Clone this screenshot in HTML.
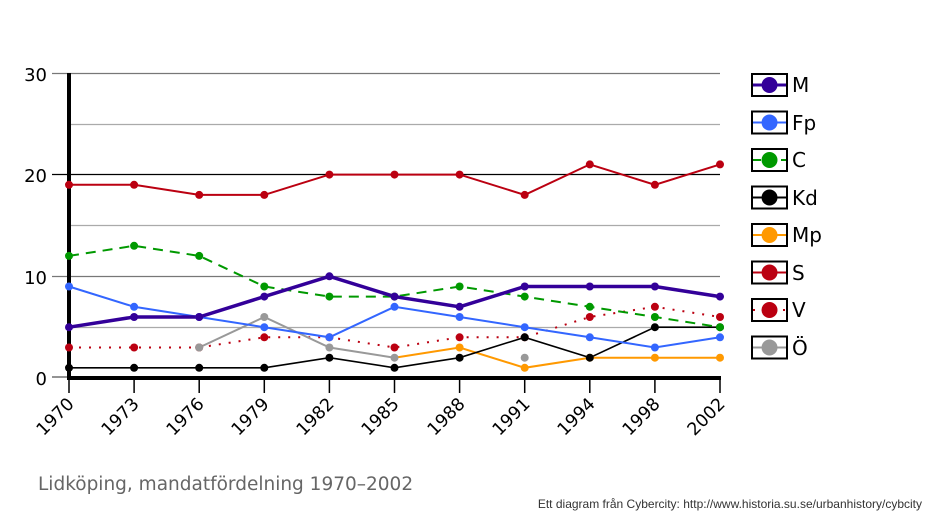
<!DOCTYPE html>
<html><head><meta charset="utf-8"><style>body{margin:0;background:#fff}svg{display:block;font-family:"DejaVu Sans","Liberation Sans",sans-serif}</style></head><body>
<svg width="934" height="521" viewBox="0 0 934 521" xmlns="http://www.w3.org/2000/svg">
<g stroke-width="1.3">
<line x1="52" y1="73.5" x2="720" y2="73.5" stroke="#777"/>
<line x1="69" y1="124.5" x2="720" y2="124.5" stroke="#aaa"/>
<line x1="52" y1="174.5" x2="720" y2="174.5" stroke="#000"/>
<line x1="69" y1="225.5" x2="720" y2="225.5" stroke="#aaa"/>
<line x1="52" y1="276.5" x2="720" y2="276.5" stroke="#777"/>
<line x1="69" y1="327.5" x2="720" y2="327.5" stroke="#aaa"/>
<line x1="52" y1="377" x2="69" y2="377" stroke="#555"/>
</g>
<g stroke="#000" stroke-width="1.5">
<line x1="69" y1="378" x2="69" y2="393"/><line x1="134.1" y1="378" x2="134.1" y2="393"/><line x1="199.2" y1="378" x2="199.2" y2="393"/><line x1="264.3" y1="378" x2="264.3" y2="393"/><line x1="329.4" y1="378" x2="329.4" y2="393"/><line x1="394.5" y1="378" x2="394.5" y2="393"/><line x1="459.6" y1="378" x2="459.6" y2="393"/><line x1="524.7" y1="378" x2="524.7" y2="393"/><line x1="589.8" y1="378" x2="589.8" y2="393"/><line x1="654.9" y1="378" x2="654.9" y2="393"/><line x1="720" y1="378" x2="720" y2="393"/>
</g>
<line x1="69" y1="73" x2="69" y2="379" stroke="#000" stroke-width="4"/>
<line x1="67" y1="378" x2="721" y2="378" stroke="#000" stroke-width="4"/>
<g font-size="18" text-anchor="end" fill="#000">
<text x="47" y="81">30</text><text x="47" y="182">20</text><text x="47" y="284">10</text><text x="47" y="385">0</text>
</g>
<g font-size="17.5" text-anchor="end" fill="#000">
<text transform="translate(75,405) rotate(-45)">1970</text>
<text transform="translate(140,405) rotate(-45)">1973</text>
<text transform="translate(205,405) rotate(-45)">1976</text>
<text transform="translate(270,405) rotate(-45)">1979</text>
<text transform="translate(335,405) rotate(-45)">1982</text>
<text transform="translate(400,405) rotate(-45)">1985</text>
<text transform="translate(466,405) rotate(-45)">1988</text>
<text transform="translate(531,405) rotate(-45)">1991</text>
<text transform="translate(596,405) rotate(-45)">1994</text>
<text transform="translate(661,405) rotate(-45)">1998</text>
<text transform="translate(726,405) rotate(-45)">2002</text>
</g>
<g fill="none">
<polyline stroke="#bb0011" stroke-width="2" stroke-dasharray="2,8" points="69,347.5 134.1,347.5 199.2,347.5 264.3,337.3 329.4,337.3 394.5,347.5 459.6,337.3 524.7,337.3 589.8,317 654.9,306.8 720,317"/>
<polyline stroke="#999" stroke-width="2" points="199.2,347.5 264.3,317 329.4,347.5 394.5,357.7"/>
<polyline stroke="#ff9900" stroke-width="2" points="394.5,357.7 459.6,347.5 524.7,367.8 589.8,357.7 654.9,357.7 720,357.7"/>
<polyline stroke="#000" stroke-width="1.6" points="69,367.8 134.1,367.8 199.2,367.8 264.3,367.8 329.4,357.7 394.5,367.8 459.6,357.7 524.7,337.3 589.8,357.7 654.9,327.2 720,327.2"/>
<polyline stroke="#bb0011" stroke-width="2" points="69,184.8 134.1,184.8 199.2,194.9 264.3,194.9 329.4,174.6 394.5,174.6 459.6,174.6 524.7,194.9 589.8,164.4 654.9,184.8 720,164.4"/>
<polyline stroke="#3366ff" stroke-width="2" points="69,286.5 134.1,306.8 199.2,317 264.3,327.2 329.4,337.3 394.5,306.8 459.6,317 524.7,327.2 589.8,337.3 654.9,347.5 720,337.3"/>
<polyline stroke="#009900" stroke-width="2" stroke-dasharray="10,7" points="69,255.9 134.1,245.8 199.2,255.9 264.3,286.5 329.4,296.6 394.5,296.6 459.6,286.5 524.7,296.6 589.8,306.8 654.9,317 720,327.2"/>
<polyline stroke="#330099" stroke-width="3.5" points="69,327.2 134.1,317 199.2,317 264.3,296.6 329.4,276.3 394.5,296.6 459.6,306.8 524.7,286.5 589.8,286.5 654.9,286.5 720,296.6"/>
</g>
<g>
<g fill="#bb0011"><circle cx="69" cy="347.5" r="4"/><circle cx="134.1" cy="347.5" r="4"/><circle cx="199.2" cy="347.5" r="4"/><circle cx="264.3" cy="337.3" r="4"/><circle cx="329.4" cy="337.3" r="4"/><circle cx="394.5" cy="347.5" r="4"/><circle cx="459.6" cy="337.3" r="4"/><circle cx="524.7" cy="337.3" r="4"/><circle cx="589.8" cy="317" r="4"/><circle cx="654.9" cy="306.8" r="4"/><circle cx="720" cy="317" r="4"/></g>
<g fill="#999"><circle cx="199.2" cy="347.5" r="4"/><circle cx="264.3" cy="317" r="4"/><circle cx="329.4" cy="347.5" r="4"/><circle cx="394.5" cy="357.7" r="4"/><circle cx="524.7" cy="357.7" r="4"/></g>
<g fill="#ff9900"><circle cx="459.6" cy="347.5" r="4"/><circle cx="524.7" cy="367.8" r="4"/><circle cx="589.8" cy="357.7" r="4"/><circle cx="654.9" cy="357.7" r="4"/><circle cx="720" cy="357.7" r="4"/></g>
<g fill="#000"><circle cx="69" cy="367.8" r="4"/><circle cx="134.1" cy="367.8" r="4"/><circle cx="199.2" cy="367.8" r="4"/><circle cx="264.3" cy="367.8" r="4"/><circle cx="329.4" cy="357.7" r="4"/><circle cx="394.5" cy="367.8" r="4"/><circle cx="459.6" cy="357.7" r="4"/><circle cx="524.7" cy="337.3" r="4"/><circle cx="589.8" cy="357.7" r="4"/><circle cx="654.9" cy="327.2" r="4"/><circle cx="720" cy="327.2" r="4"/></g>
<g fill="#bb0011"><circle cx="69" cy="184.8" r="4"/><circle cx="134.1" cy="184.8" r="4"/><circle cx="199.2" cy="194.9" r="4"/><circle cx="264.3" cy="194.9" r="4"/><circle cx="329.4" cy="174.6" r="4"/><circle cx="394.5" cy="174.6" r="4"/><circle cx="459.6" cy="174.6" r="4"/><circle cx="524.7" cy="194.9" r="4"/><circle cx="589.8" cy="164.4" r="4"/><circle cx="654.9" cy="184.8" r="4"/><circle cx="720" cy="164.4" r="4"/></g>
<g fill="#3366ff"><circle cx="69" cy="286.5" r="4"/><circle cx="134.1" cy="306.8" r="4"/><circle cx="199.2" cy="317" r="4"/><circle cx="264.3" cy="327.2" r="4"/><circle cx="329.4" cy="337.3" r="4"/><circle cx="394.5" cy="306.8" r="4"/><circle cx="459.6" cy="317" r="4"/><circle cx="524.7" cy="327.2" r="4"/><circle cx="589.8" cy="337.3" r="4"/><circle cx="654.9" cy="347.5" r="4"/><circle cx="720" cy="337.3" r="4"/></g>
<g fill="#009900"><circle cx="69" cy="255.9" r="4"/><circle cx="134.1" cy="245.8" r="4"/><circle cx="199.2" cy="255.9" r="4"/><circle cx="264.3" cy="286.5" r="4"/><circle cx="329.4" cy="296.6" r="4"/><circle cx="394.5" cy="296.6" r="4"/><circle cx="459.6" cy="286.5" r="4"/><circle cx="524.7" cy="296.6" r="4"/><circle cx="589.8" cy="306.8" r="4"/><circle cx="654.9" cy="317" r="4"/><circle cx="720" cy="327.2" r="4"/></g>
<g fill="#330099"><circle cx="69" cy="327.2" r="4"/><circle cx="134.1" cy="317" r="4"/><circle cx="199.2" cy="317" r="4"/><circle cx="264.3" cy="296.6" r="4"/><circle cx="329.4" cy="276.3" r="4"/><circle cx="394.5" cy="296.6" r="4"/><circle cx="459.6" cy="306.8" r="4"/><circle cx="524.7" cy="286.5" r="4"/><circle cx="589.8" cy="286.5" r="4"/><circle cx="654.9" cy="286.5" r="4"/><circle cx="720" cy="296.6" r="4"/></g>
</g>
<g stroke-width="2">
<g transform="translate(0,85)"><rect x="752" y="-11" width="35" height="22" fill="#fff" stroke="#000"/><line x1="753" y1="0" x2="786" y2="0" stroke="#330099" stroke-width="3"/><circle cx="769.5" cy="0" r="8" fill="#330099" stroke="none"/></g>
<g transform="translate(0,122.5)"><rect x="752" y="-11" width="35" height="22" fill="#fff" stroke="#000"/><line x1="753" y1="0" x2="786" y2="0" stroke="#3366ff"/><circle cx="769.5" cy="0" r="8" fill="#3366ff" stroke="none"/></g>
<g transform="translate(0,160)"><rect x="752" y="-11" width="35" height="22" fill="#fff" stroke="#000"/><line x1="753" y1="0" x2="786" y2="0" stroke="#009900" stroke-dasharray="8,6"/><circle cx="769.5" cy="0" r="8" fill="#009900" stroke="none"/></g>
<g transform="translate(0,197.5)"><rect x="752" y="-11" width="35" height="22" fill="#fff" stroke="#000"/><line x1="753" y1="0" x2="786" y2="0" stroke="#000"/><circle cx="769.5" cy="0" r="8" fill="#000" stroke="none"/></g>
<g transform="translate(0,235)"><rect x="752" y="-11" width="35" height="22" fill="#fff" stroke="#000"/><line x1="753" y1="0" x2="786" y2="0" stroke="#ff9900"/><circle cx="769.5" cy="0" r="8" fill="#ff9900" stroke="none"/></g>
<g transform="translate(0,272.5)"><rect x="752" y="-11" width="35" height="22" fill="#fff" stroke="#000"/><line x1="753" y1="0" x2="786" y2="0" stroke="#bb0011"/><circle cx="769.5" cy="0" r="8" fill="#bb0011" stroke="none"/></g>
<g transform="translate(0,310)"><rect x="752" y="-11" width="35" height="22" fill="#fff" stroke="#000"/><line x1="753" y1="0" x2="786" y2="0" stroke="#bb0011" stroke-dasharray="2,8"/><circle cx="769.5" cy="0" r="8" fill="#bb0011" stroke="none"/></g>
<g transform="translate(0,347.5)"><rect x="752" y="-11" width="35" height="22" fill="#fff" stroke="#000"/><line x1="753" y1="0" x2="786" y2="0" stroke="#999"/><circle cx="769.5" cy="0" r="8" fill="#999" stroke="none"/></g>
</g>
<g font-size="20" fill="#000">
<text x="792" y="92">M</text><text x="792" y="130">Fp</text><text x="792" y="167">C</text><text x="792" y="205">Kd</text><text x="792" y="242">Mp</text><text x="792" y="280">S</text><text x="792" y="317">V</text><text x="792" y="355">Ö</text>
</g>
<text x="38" y="490" font-size="18.5" fill="#666">Lidköping, mandatfördelning 1970–2002</text>
<text x="922" y="508" font-size="12" fill="#333" text-anchor="end" font-family="Liberation Sans, sans-serif">Ett diagram från Cybercity: http://www.historia.su.se/urbanhistory/cybcity</text>
</svg>
</body></html>
